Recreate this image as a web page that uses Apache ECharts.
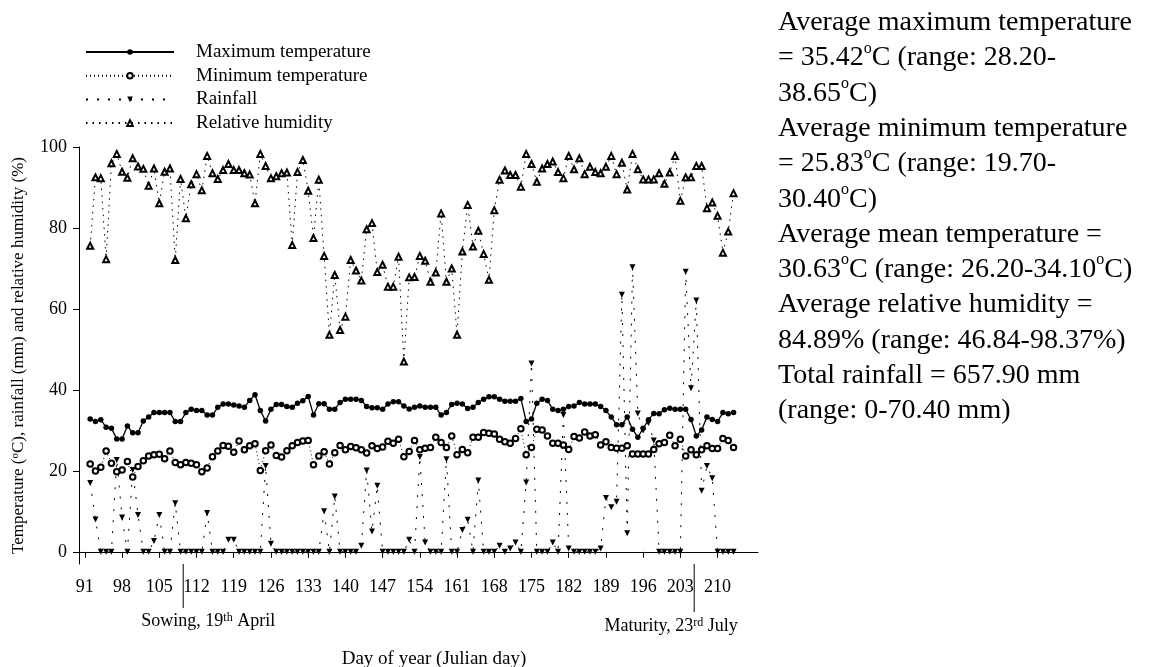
<!DOCTYPE html>
<html><head><meta charset="utf-8">
<script src="https://cdn.jsdelivr.net/npm/echarts@6/dist/echarts.min.js"></script>
<style>html,body{margin:0;padding:0;background:#fff}#c{width:1150px;height:667px}</style>
</head><body><div id="c"></div>
<script>
// ---- data (day of year 92 .. 213, one value per day) ----
const firstDay = 92;
const maxTemp = [
32.8, 32.2, 32.6, 30.8, 30.5, 27.9, 27.9, 31.1, 29.4, 29.4,
32.3, 33.3, 34.4, 34.4, 34.4, 34.4, 32.2, 32.2, 34.4, 35.2,
34.9, 34.9, 33.8, 33.8, 35.7, 36.5, 36.5, 36.3, 36.0, 35.7,
37.4, 38.8, 34.9, 32.3, 35.2, 36.4, 36.4, 35.9, 35.7, 36.7,
37.3, 38.4, 33.8, 36.6, 36.6, 35.2, 35.2, 36.9, 37.7, 37.7,
37.7, 37.4, 35.9, 35.6, 35.6, 35.2, 36.5, 37.1, 37.1, 36.0,
35.3, 35.7, 36.0, 35.7, 35.7, 35.7, 33.8, 34.4, 36.4, 36.7,
36.5, 35.4, 35.7, 36.9, 37.7, 38.3, 38.3, 37.7, 37.2, 37.2,
37.2, 37.9, 32.2, 32.8, 36.7, 37.7, 37.4, 35.2, 34.9, 35.2,
35.9, 36.0, 36.9, 36.5, 36.5, 36.5, 35.9, 34.9, 33.3, 31.4,
31.4, 33.3, 30.3, 28.3, 30.5, 32.6, 34.2, 34.1, 35.1, 35.5,
35.2, 35.2, 35.2, 32.7, 28.6, 30.1, 33.3, 32.7, 32.2, 34.4,
34.1, 34.4
];
const minTemp = [
21.7, 20.0, 20.9, 24.9, 21.9, 19.8, 20.2, 22.3, 18.5, 21.1,
22.5, 23.7, 24.0, 24.1, 23.0, 24.9, 22.1, 21.5, 22.1, 21.9,
21.5, 19.8, 20.7, 23.5, 24.9, 26.3, 26.1, 24.6, 27.4, 25.2,
26.2, 26.7, 20.1, 25.0, 26.4, 23.8, 23.4, 25.0, 26.2, 27.0,
27.4, 27.5, 21.5, 23.7, 24.7, 21.7, 24.5, 26.3, 25.2, 26.0,
25.7, 25.2, 24.4, 26.2, 25.5, 25.9, 27.3, 26.8, 27.8, 23.5,
24.8, 27.5, 25.2, 25.6, 25.8, 28.3, 27.0, 25.8, 28.6, 24.0,
25.3, 24.5, 28.3, 28.3, 29.5, 29.3, 29.1, 27.8, 27.2, 26.8,
28.0, 30.4, 24.0, 25.8, 30.3, 30.1, 28.6, 26.8, 26.8, 26.4,
25.3, 28.5, 28.1, 29.6, 28.6, 28.9, 26.4, 27.2, 25.8, 25.6,
25.6, 26.2, 24.2, 24.2, 24.2, 24.2, 25.3, 26.7, 27.0, 28.8,
26.2, 27.8, 23.7, 25.2, 24.0, 25.2, 26.2, 25.5, 25.5, 28.0,
27.5, 25.8
];
const rainfall = [
17.0, 8.0, 0, 0, 0, 22.7, 8.5, 0, 20.2, 9.1,
0, 0, 2.7, 9.1, 0, 0, 12.0, 0, 0, 0,
0, 0, 9.6, 0, 0, 0, 3.0, 3.0, 0, 0,
0, 0, 0, 21.2, 2.0, 0, 0, 0, 0, 0,
0, 0, 0, 0, 10.0, 0, 13.7, 0, 0, 0,
0, 1.5, 20.1, 5.0, 16.3, 0, 0, 0, 0, 0,
3.0, 0, 23.4, 2.3, 0, 0, 0, 22.9, 0, 0,
5.4, 7.9, 0, 17.6, 0, 0, 0, 1.5, 0, 0.8,
2.3, 0, 17.1, 46.5, 0, 0, 0, 2.3, 0, 33.8,
0.8, 0, 0, 0, 0, 0, 0.8, 13.3, 11.0, 12.4,
63.5, 4.6, 70.3, 34.2, 30.0, 31.8, 27.5, 0, 0, 0,
0, 0, 69.2, 40.4, 62.1, 15.1, 21.2, 18.2, 0, 0,
0, 0
];
const humidity = [
75.6, 92.5, 92.3, 72.3, 96.0, 98.3, 93.9, 92.4, 97.2, 95.2,
94.6, 90.4, 94.7, 86.1, 93.9, 94.7, 72.1, 92.1, 82.4, 90.8,
93.3, 89.3, 97.8, 93.5, 92.1, 94.3, 95.8, 94.3, 94.3, 93.5,
93.2, 86.1, 98.3, 95.3, 92.3, 92.8, 93.5, 93.7, 75.8, 93.8,
96.8, 89.2, 77.5, 91.9, 73.1, 53.6, 68.4, 54.8, 58.1, 72.1,
69.5, 67.0, 79.7, 81.2, 69.1, 70.9, 65.5, 65.5, 72.9, 47.0,
67.8, 67.9, 73.1, 71.9, 66.7, 69.0, 83.6, 66.7, 70.0, 53.6,
74.2, 85.7, 75.4, 79.3, 73.6, 67.2, 84.4, 91.9, 94.2, 93.1,
93.1, 90.2, 98.3, 95.8, 91.4, 94.7, 95.8, 96.4, 93.8, 92.3,
97.8, 94.5, 97.2, 93.3, 95.1, 93.8, 93.5, 95.1, 97.8, 93.3,
96.1, 89.5, 98.3, 94.5, 92.0, 92.0, 92.0, 93.5, 90.9, 93.7,
97.8, 86.7, 92.5, 92.5, 95.3, 95.3, 84.9, 86.3, 83.0, 73.9,
79.1, 88.6
];
const xTicks = [91, 98, 105, 112, 119, 126, 133, 140, 147, 154, 161, 168, 175, 182, 189, 196, 203, 210];
const yTicks = [0, 20, 40, 60, 80, 100];
const stageDays = [109.5, 205.6];
const stageLabels = ['Sowing, 19{s|th} April', 'Maturity, 23{s|rd} July'];
const seriesNames = ['Maximum temperature', 'Minimum temperature', 'Rainfall', 'Relative humidity'];
const statLines = [
  'Average maximum temperature',
  '= 35.42{s|o}C (range: 28.20-',
  '38.65{s|o}C)',
  'Average minimum temperature',
  '= 25.83{s|o}C (range: 19.70-',
  '30.40{s|o}C)',
  'Average mean temperature =',
  '30.63{s|o}C (range: 26.20-34.10{s|o}C)',
  'Average relative humidity =',
  '84.89% (range: 46.84-98.37%)',
  'Total rainfall = 657.90 mm',
  '(range: 0-70.40 mm)'
];

const F = "'Liberation Serif','Times New Roman',serif";
const days = maxTemp.map((_, i) => firstDay + i);
const pairs = arr => arr.map((v, i) => [days[i], v]);
const downTri = 'path://M0,0 L10,0 L5,9 Z';

const chart = echarts.init(document.getElementById('c'));
const option = {
  animation: false,
  backgroundColor: '#fff',
  grid: { left: 79, top: 147, right: 392, bottom: 103, containLabel: false },
  legend: {
    orient: 'vertical', left: 85, top: 42, padding: 0,
    itemWidth: 88, itemHeight: 7, itemGap: 3.7,
    textStyle: { fontFamily: F, fontSize: 19, color: '#000', lineHeight: 20, padding: [0, 0, 0, 17] },
    data: seriesNames
  },
  xAxis: {
    type: 'value', min: 89.9, max: 217.6,
    axisLine: { lineStyle: { color: '#000', width: 1 } },
    axisTick: { show: true, length: 6, customValues: xTicks, lineStyle: { color: '#000' } },
    axisLabel: { customValues: xTicks, fontFamily: F, fontSize: 18, color: '#000', margin: 14 },
    splitLine: { show: false }
  },
  yAxis: {
    type: 'value', min: -3, max: 100,
    name: 'Temperature ({s|o}C), rainfall (mm) and relative humidity (%)',
    nameLocation: 'middle', nameGap: 52,
    nameTextStyle: { fontFamily: F, fontSize: 17, color: '#000',
      rich: { s: { fontFamily: F, fontSize: 11, verticalAlign: 'top', lineHeight: 10 } } },
    axisLine: { show: true, lineStyle: { color: '#000', width: 1 } },
    axisTick: { show: true, length: 6, customValues: yTicks, lineStyle: { color: '#000' } },
    axisLabel: { customValues: yTicks, fontFamily: F, fontSize: 18, color: '#000', margin: 12 },
    splitLine: { show: false }
  },
  series: [
    { name: seriesNames[0], type: 'line', data: pairs(maxTemp), symbol: 'circle', symbolSize: 5.5,
      itemStyle: { color: '#000' }, lineStyle: { color: '#000', width: 1.3 }, z: 5 },
    { name: seriesNames[1], type: 'line', data: pairs(minTemp), symbol: 'emptyCircle', symbolSize: 5.5,
      itemStyle: { color: '#000', borderColor: '#000', borderWidth: 1 },
      lineStyle: { color: '#000', width: 1, type: [1, 3] }, z: 4 },
    { name: seriesNames[2], type: 'line', data: pairs(rainfall), symbol: downTri, symbolSize: [6, 6],
      itemStyle: { color: '#000' }, lineStyle: { color: '#000', width: 1, type: [2, 9] }, z: 3 },
    { name: seriesNames[3], type: 'line', data: pairs(humidity), symbol: 'emptyTriangle', symbolSize: 6,
      itemStyle: { color: '#000', borderColor: '#000', borderWidth: 0.9 },
      lineStyle: { color: '#000', width: 1, type: [1.5, 5] }, z: 3 }
  ]
};
chart.setOption(option);

const axisY = chart.convertToPixel({ yAxisIndex: 0 }, -3);
const sx = stageDays.map(d => chart.convertToPixel({ xAxisIndex: 0 }, d));
const supRich = { s: { fontFamily: F, fontSize: 12, verticalAlign: 'top', lineHeight: 10, fill: '#000' } };
chart.setOption({
  graphic: [
    { type: 'line', shape: { x1: sx[0], y1: axisY, x2: sx[0], y2: axisY + 44 }, style: { stroke: '#000', lineWidth: 1 } },
    { type: 'line', shape: { x1: sx[1], y1: axisY, x2: sx[1], y2: axisY + 48 }, style: { stroke: '#000', lineWidth: 1 } },
    { type: 'text', x: sx[0] + 25, y: 621, style: { text: stageLabels[0], fontFamily: F, fontSize: 18, fill: '#000',
      align: 'center', verticalAlign: 'middle', rich: supRich } },
    { type: 'text', x: sx[1] - 23, y: 626, style: { text: stageLabels[1], fontFamily: F, fontSize: 18, fill: '#000',
      align: 'center', verticalAlign: 'middle', rich: supRich } },
    { type: 'text', x: 434, y: 659, style: { text: 'Day of year (Julian day)', fontFamily: F, fontSize: 19, fill: '#000',
      align: 'center', verticalAlign: 'middle' } },
    { type: 'text', x: 778, y: 5, style: { text: statLines.join('\n'), fontFamily: F, fontSize: 28, lineHeight: 35.3,
      fill: '#000', align: 'left', verticalAlign: 'top',
      rich: { s: { fontFamily: F, fontSize: 16, verticalAlign: 'top', lineHeight: 16, fill: '#000' } } } }
  ]
});
</script>
</body></html>
